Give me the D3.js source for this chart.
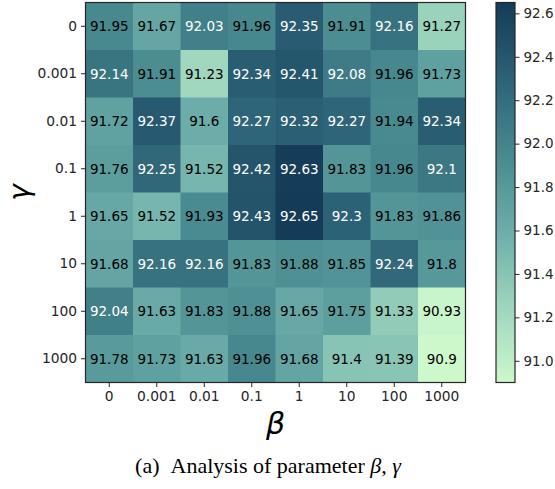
<!DOCTYPE html>
<html>
<head>
<meta charset="utf-8">
<script src="https://cdn.jsdelivr.net/npm/d3@7"></script>
<style>
html,body{margin:0;padding:0;background:#fff;}
svg{display:block;}
</style>
</head>
<body>
<svg id="chart" width="555" height="489"></svg>
<script>
const betaLabels = ["0","0.001","0.01","0.1","1","10","100","1000"];
const gammaLabels = ["0","0.001","0.01","0.1","1","10","100","1000"];
const values = [
  [91.95,91.67,92.03,91.96,92.35,91.91,92.16,91.27],
  [92.14,91.91,91.23,92.34,92.41,92.08,91.96,91.73],
  [91.72,92.37,91.6,92.27,92.32,92.27,91.94,92.34],
  [91.76,92.25,91.52,92.42,92.63,91.83,91.96,92.1],
  [91.65,91.52,91.93,92.43,92.65,92.3,91.83,91.86],
  [91.68,92.16,92.16,91.83,91.88,91.85,92.24,91.8],
  [92.04,91.63,91.83,91.88,91.65,91.75,91.33,90.93],
  [91.78,91.73,91.63,91.96,91.68,91.4,91.39,90.9]
];
const colorbarTicks = [91.0,91.2,91.4,91.6,91.8,92.0,92.2,92.4,92.6];
const vmin = 90.9, vmax = 92.65;

const svg = d3.select("#chart");
const hm = {x:85.5, y:2.5, w:380, h:380};

const x = d3.scaleBand().domain(betaLabels).range([hm.x, hm.x+hm.w]);
const y = d3.scaleBand().domain(gammaLabels).range([hm.y, hm.y+hm.h]);

const stops = [90.9, 91.25, 91.6, 91.95, 92.3, 92.65];
const stopColors = ["#ccf8cc","#9dd5bd","#6cadaa","#48898f","#2c6276","#143b57"];
const color = d3.scaleLinear().domain(stops).range(stopColors).interpolate(d3.interpolateRgb).clamp(true);

const cells = [];
values.forEach((row,i)=>row.forEach((v,j)=>cells.push({g:gammaLabels[i], b:betaLabels[j], v})));

svg.append("g").selectAll("rect").data(cells).join("rect")
  .attr("x", d=>x(d.b)).attr("y", d=>y(d.g))
  .attr("width", x.bandwidth()+0.5).attr("height", y.bandwidth()+0.5)
  .attr("fill", d=>color(d.v));

const font = "'DejaVu Sans', sans-serif";
svg.append("g").selectAll("text").data(cells).join("text")
  .attr("x", d=>x(d.b)+x.bandwidth()/2)
  .attr("y", d=>y(d.g)+y.bandwidth()/2)
  .attr("text-anchor","middle").attr("dominant-baseline","central")
  .attr("font-family", font).attr("font-size", 13.5)
  .attr("fill", d=> d.v > 92.0 ? "#ffffff" : "#000000")
  .text(d=>String(d.v));

svg.append("rect").attr("x",hm.x).attr("y",hm.y).attr("width",hm.w).attr("height",hm.h)
  .attr("fill","none").attr("stroke","#262626").attr("stroke-width",1.2);

// axes
const xAxis = svg.append("g").attr("transform",`translate(0,${hm.y+hm.h})`)
  .call(d3.axisBottom(x).tickSize(4.5).tickPadding(4));
const yAxis = svg.append("g").attr("transform",`translate(${hm.x},0)`)
  .call(d3.axisLeft(y).tickSize(4.5).tickPadding(4));
[xAxis,yAxis].forEach(a=>{
  a.select(".domain").remove();
  a.selectAll(".tick line").attr("stroke","#262626").attr("stroke-width",1);
  a.selectAll(".tick text").attr("font-family",font).attr("font-size",13.8).attr("fill","#262626");
});

// axis labels
svg.append("text").attr("x", hm.x+hm.w/2).attr("y", 434)
  .attr("text-anchor","middle").attr("font-family",font).attr("font-style","italic")
  .attr("font-size",30).attr("fill","#000").text("β");
svg.append("text").attr("transform",`translate(29,${hm.y+hm.h/2}) rotate(-90)`)
  .attr("text-anchor","middle").attr("font-family",font).attr("font-style","italic")
  .attr("font-size",28).attr("fill","#000").text("γ");

// colorbar
const cb = {x:496, y:2.5, w:19, h:380};
const cbScale = d3.scaleLinear().domain([vmin, vmax]).range([cb.y+cb.h, cb.y]);
const defs = svg.append("defs");
const grad = defs.append("linearGradient").attr("id","cbgrad")
  .attr("x1","0").attr("y1","1").attr("x2","0").attr("y2","0");
d3.range(0,1.0001,0.05).forEach(t=>{
  const v = vmin + t*(vmax-vmin);
  grad.append("stop").attr("offset", t).attr("stop-color", color(v));
});
svg.append("rect").attr("x",cb.x).attr("y",cb.y).attr("width",cb.w).attr("height",cb.h)
  .attr("fill","url(#cbgrad)").attr("stroke","#262626").attr("stroke-width",1.2);
const cbAxis = svg.append("g").attr("transform",`translate(${cb.x+cb.w},0)`)
  .call(d3.axisRight(cbScale).tickValues(colorbarTicks).tickFormat(d3.format(".1f")).tickSize(4.5).tickPadding(4));
cbAxis.select(".domain").remove();
cbAxis.selectAll(".tick line").attr("stroke","#262626");
cbAxis.selectAll(".tick text").attr("font-family",font).attr("font-size",13.5).attr("fill","#262626");

// caption
const cap = svg.append("text").attr("x", 268).attr("y", 473)
  .attr("text-anchor","middle").attr("font-family","'Liberation Serif','DejaVu Serif',serif")
  .attr("font-size",22).attr("fill","#000");
cap.append("tspan").text("(a)\u2002Analysis of parameter ");
cap.append("tspan").attr("font-style","italic").text("β");
cap.append("tspan").text(", ");
cap.append("tspan").attr("font-style","italic").text("γ");
</script>
</body>
</html>
